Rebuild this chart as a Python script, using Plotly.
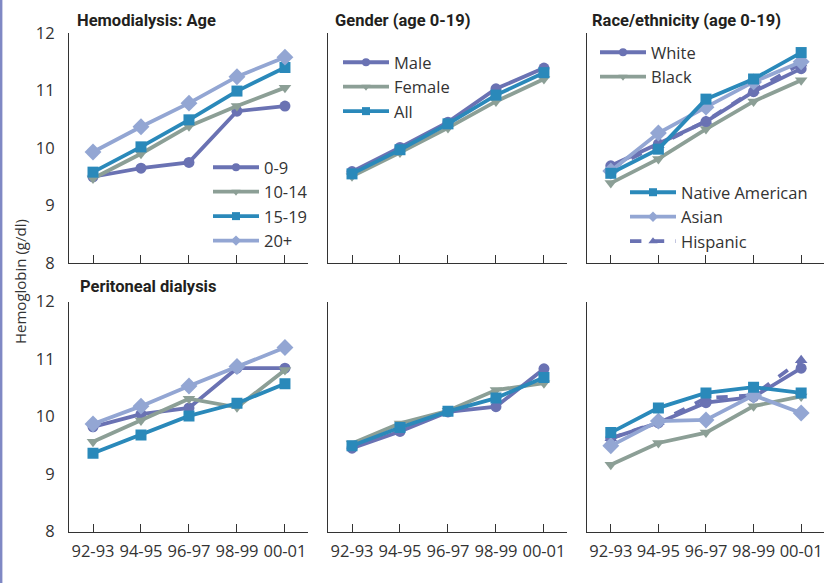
import plotly.graph_objects as go

periods = ["92-93", "94-95", "96-97", "98-99", "00-01"]
y_ticks = [8, 9, 10, 11, 12]

# Hemodialysis: Age
hd_age_0_9 = [9.50, 9.65, 9.75, 10.64, 10.73]
hd_age_10_14 = [9.47, 9.90, 10.38, 10.73, 11.05]
hd_age_15_19 = [9.58, 10.02, 10.49, 10.99, 11.40]
hd_age_20p = [9.93, 10.37, 10.78, 11.24, 11.58]

# Hemodialysis: Gender (age 0-19)
hd_male = [9.59, 10.01, 10.45, 11.03, 11.39]
hd_female = [9.51, 9.92, 10.35, 10.81, 11.20]
hd_all = [9.55, 9.97, 10.42, 10.92, 11.31]

# Hemodialysis: Race/ethnicity (age 0-19)
hd_white = [9.69, 10.07, 10.46, 10.98, 11.38]
hd_black = [9.39, 9.81, 10.33, 10.81, 11.18]
hd_native = [9.56, 9.98, 10.85, 11.20, 11.66]
hd_asian = [9.60, 10.26, 10.71, 11.15, 11.50]
hd_hispanic = [9.65, 10.05, 10.47, 11.00, 11.47]

# Peritoneal dialysis: Age
pd_age_0_9 = [9.82, 10.04, 10.15, 10.84, 10.84]
pd_age_10_14 = [9.56, 9.93, 10.31, 10.16, 10.81]
pd_age_15_19 = [9.36, 9.68, 10.01, 10.23, 10.57]
pd_age_20p = [9.87, 10.18, 10.53, 10.87, 11.20]

# Peritoneal dialysis: Gender
pd_male = [9.45, 9.74, 10.08, 10.17, 10.83]
pd_female = [9.53, 9.88, 10.10, 10.46, 10.58]
pd_all = [9.49, 9.81, 10.09, 10.32, 10.68]

# Peritoneal dialysis: Race/ethnicity
pd_white = [9.62, 9.89, 10.24, 10.34, 10.84]
pd_black = [9.16, 9.54, 9.72, 10.18, 10.35]
pd_native = [9.72, 10.15, 10.41, 10.51, 10.41]
pd_asian = [9.49, 9.92, 9.94, 10.37, 10.06]
pd_hispanic = [9.62, 9.90, 10.32, 10.37, 10.98]

C_PURPLE = "#6a72b3"
C_GREEN = "#8c9f96"
C_TEAL = "#2a89ba"
C_LIGHT = "#93a6d3"

W, H = 824, 583

def px_x(a, b):
    return [a / W, b / W]

def px_y(top, bottom):
    return [1 - bottom / H, 1 - top / H]

fig = go.Figure()

xdomains = [px_x(69, 308), px_x(328, 567), px_x(587, 824)]
ydomains = [px_y(33, 263), px_y(301.5, 531.5)]

def axid(r, c):
    n = r * 3 + c + 1
    return ("x" if n == 1 else f"x{n}"), ("y" if n == 1 else f"y{n}")

TICKFONT = dict(family="Open Sans, Noto Sans, sans-serif", size=16.5, color="#333333")

for r in range(2):
    for c in range(3):
        n = r * 3 + c + 1
        xk = "xaxis" if n == 1 else f"xaxis{n}"
        yk = "yaxis" if n == 1 else f"yaxis{n}"
        xa, ya = axid(r, c)
        fig.layout[xk] = dict(
            domain=xdomains[c], anchor=ya, type="category",
            categoryorder="array", categoryarray=periods,
            range=[-0.5, 4.48], showgrid=False, zeroline=False,
            showline=True, linecolor="#333333", linewidth=1,
            ticks="inside", ticklen=8, tickcolor="#333333", tickwidth=1,
            showticklabels=(r == 1), tickfont=TICKFONT, ticklabelstandoff=5,
            fixedrange=True,
        )
        fig.layout[yk] = dict(
            domain=ydomains[r], anchor=xa, range=[8, 12],
            tickvals=y_ticks, showgrid=False, zeroline=False,
            showline=True, linecolor="#333333", linewidth=1,
            ticks="", showticklabels=(c == 0), tickfont=TICKFONT,
            ticklabelstandoff=10, fixedrange=True,
        )

def add(r, c, y, name, color, symbol, dash="solid", msize=11):
    xa, ya = axid(r, c)
    fig.add_trace(go.Scatter(
        x=periods, y=y, name=name, mode="lines+markers",
        line=dict(color=color, width=3.8, dash=dash),
        marker=dict(color=color, symbol=symbol, size=msize),
        xaxis=xa, yaxis=ya, showlegend=False, hoverinfo="skip",
    ))

def add_legend(name, color, symbol, legend, dash="solid"):
    fig.add_trace(go.Scatter(
        x=[None], y=[None], name=name, mode="lines+markers",
        line=dict(color=color, width=3.8, dash=dash),
        marker=dict(color=color, symbol=symbol, size=8),
        showlegend=True, legend=legend,
    ))

# Top row
add(0, 0, hd_age_0_9, "0-9", C_PURPLE, "circle")
add(0, 0, hd_age_10_14, "10-14", C_GREEN, "triangle-down")
add(0, 0, hd_age_15_19, "15-19", C_TEAL, "square")
add(0, 0, hd_age_20p, "20+", C_LIGHT, "diamond", msize=13)

add(0, 1, hd_female, "Female", C_GREEN, "triangle-down")
add(0, 1, hd_male, "Male", C_PURPLE, "circle")
add(0, 1, hd_all, "All", C_TEAL, "square")

add(0, 2, hd_black, "Black", C_GREEN, "triangle-down")
add(0, 2, hd_white, "White", C_PURPLE, "circle")
add(0, 2, hd_hispanic, "Hispanic", C_PURPLE, "triangle-up", dash="dash")
add(0, 2, hd_asian, "Asian", C_LIGHT, "diamond", msize=13)
add(0, 2, hd_native, "Native American", C_TEAL, "square")

# Bottom row
add(1, 0, pd_age_0_9, "0-9", C_PURPLE, "circle")
add(1, 0, pd_age_10_14, "10-14", C_GREEN, "triangle-down")
add(1, 0, pd_age_15_19, "15-19", C_TEAL, "square")
add(1, 0, pd_age_20p, "20+", C_LIGHT, "diamond", msize=13)

add(1, 1, pd_female, "Female", C_GREEN, "triangle-down")
add(1, 1, pd_male, "Male", C_PURPLE, "circle")
add(1, 1, pd_all, "All", C_TEAL, "square")

add(1, 2, pd_black, "Black", C_GREEN, "triangle-down")
add(1, 2, pd_white, "White", C_PURPLE, "circle")
add(1, 2, pd_hispanic, "Hispanic", C_PURPLE, "triangle-up", dash="dash")
add(1, 2, pd_asian, "Asian", C_LIGHT, "diamond", msize=13)
add(1, 2, pd_native, "Native American", C_TEAL, "square")

# Legend entries
add_legend("0-9", C_PURPLE, "circle", "legend")
add_legend("10-14", C_GREEN, "triangle-down", "legend")
add_legend("15-19", C_TEAL, "square", "legend")
add_legend("20+", C_LIGHT, "diamond", "legend")
add_legend("Male", C_PURPLE, "circle", "legend2")
add_legend("Female", C_GREEN, "triangle-down", "legend2")
add_legend("All", C_TEAL, "square", "legend2")
add_legend("White", C_PURPLE, "circle", "legend3")
add_legend("Black", C_GREEN, "triangle-down", "legend3")
add_legend("Native American", C_TEAL, "square", "legend4")
add_legend("Asian", C_LIGHT, "diamond", "legend4")
add_legend("Hispanic", C_PURPLE, "triangle-up", "legend4", dash="dash")

LEGFONT = dict(family="Open Sans, Noto Sans, sans-serif", size=16.5, color="#333333")

def leg(xpx, ypx):
    return dict(x=xpx / W, y=1 - ypx / H, xanchor="left", yanchor="top",
                bgcolor="rgba(0,0,0,0)", borderwidth=0, font=LEGFONT,
                itemwidth=46, tracegroupgap=0, traceorder="normal",
                itemclick=False, itemdoubleclick=False)

fig.update_layout(
    width=W, height=H,
    margin=dict(l=0, r=0, t=0, b=0, autoexpand=False),
    paper_bgcolor="white", plot_bgcolor="white",
    hovermode=False,
    legend=leg(208, 150),
    legend2=leg(338, 45),
    legend3=leg(595, 35),
    legend4=leg(625, 175),
)

TITLEFONT = dict(family="Roboto, Liberation Sans, sans-serif",
                 size=16.5, color="#231f20", weight="bold")
titles = [
    ("Hemodialysis: Age", 75, 21),
    ("Gender (age 0-19)", 333, 21),
    ("Race/ethnicity (age 0-19)", 590, 21),
    ("Peritoneal dialysis", 78, 286),
]
for txt, xpx, ypx in titles:
    fig.add_annotation(text=txt, x=xpx / W, y=1 - ypx / H, xref="paper", yref="paper",
                       xanchor="left", yanchor="middle", showarrow=False, font=TITLEFONT)

fig.add_annotation(text="Hemoglobin (g/dl)", x=20 / W, y=1 - 282 / H, xref="paper", yref="paper",
                   xanchor="center", yanchor="middle", textangle=-90, showarrow=False,
                   font=dict(family="Open Sans, Noto Sans, sans-serif", size=15, color="#333333"))

fig.add_shape(type="line", xref="paper", yref="paper", x0=1.2 / W, x1=1.2 / W, y0=0, y1=1,
              line=dict(color="#7f88c4", width=2.4))

fig.write_html("out.html", config={"displayModeBar": False},
               post_script="document.body.style.margin='0px';")
